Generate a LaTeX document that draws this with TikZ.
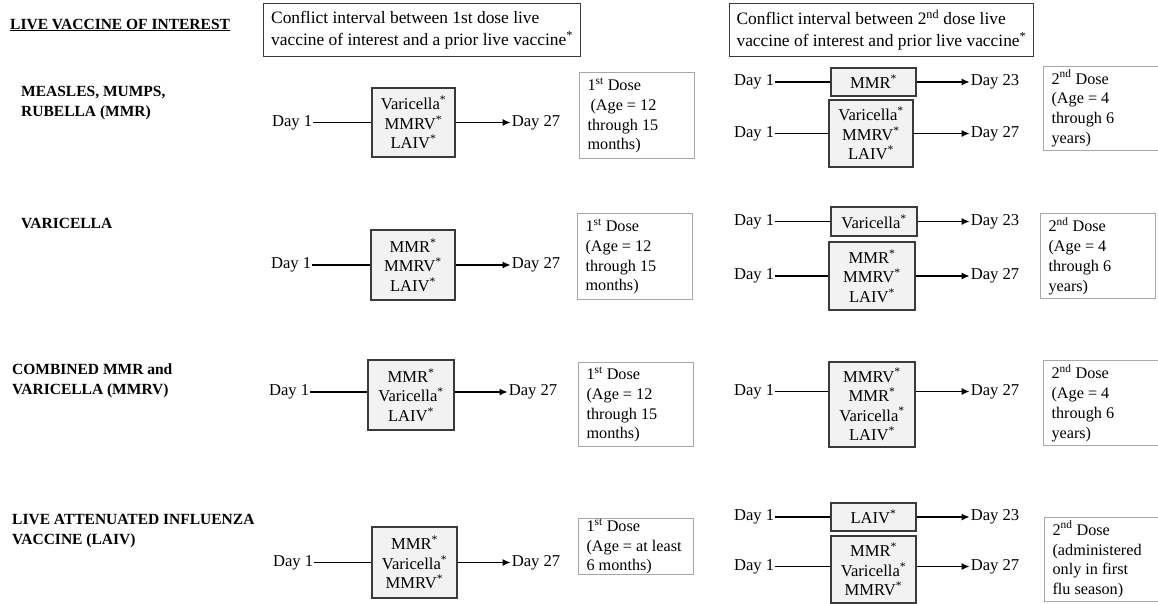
\documentclass[tikz,border=0pt]{standalone}
\usepackage{fontspec}
\setmainfont{Liberation Serif}
\usetikzlibrary{positioning, arrows.meta}
\definecolor{boxFill}{HTML}{F2F2F2}
\definecolor{boxLine}{HTML}{3A3A3A}
\definecolor{doseLine}{HTML}{A8A8A8}
\newcommand{\vstar}{\textsuperscript{*}}
\newcommand{\bodyfont}{\fontsize{16.6}{19.5}\selectfont}
\newcommand{\dosefont}{\fontsize{16.2}{19.8}\selectfont}
\tikzstyle{vaccine} =[draw=boxLine, fill=boxFill, line width=1.2pt, align=center, inner sep=0pt, font=\bodyfont]
\tikzstyle{dose} =[draw=doseLine, line width=1.1pt, align=flush left, text width=99pt, inner xsep=8pt, inner ysep=0pt, anchor=north west, font=\dosefont]
\tikzstyle{daylbl} =[inner sep=1pt, font=\bodyfont]
\tikzstyle{grouplbl} =[align=left, anchor=west, inner sep=0pt, font=\bfseries\fontsize{15.5}{19.5}\selectfont]
\tikzstyle{headbox} =[draw=boxLine, line width=1.1pt, align=flush left, anchor=north west, inner xsep=7pt, font=\fontsize{17.4}{22.5}\selectfont]
\tikzstyle{link} =[line width=1.3pt]
\tikzstyle{linkarrow} =[-{Latex[length=8pt, width=7pt]}, line width=1.3pt]

\begin{document}
\begin{tikzpicture}[x=1pt, y=-1pt]
\useasboundingbox (0,0) rectangle (1158,604);

\node (title) [grouplbl] at (10,25) {\underline{LIVE VACCINE OF INTEREST}};
\node (headOne) [headbox, minimum width=317pt, minimum height=53pt] at (263,3) {Conflict interval between 1st dose live\\vaccine of interest and a prior live vaccine\vstar};
\node (headTwo) [headbox, minimum width=303pt, minimum height=53pt] at (729,3) {Conflict interval between 2\textsuperscript{nd} dose live\\vaccine of interest and prior live vaccine\vstar};

% MMR
\node (mmrLbl) [grouplbl] at (21,103) {MEASLES, MUMPS,\\RUBELLA (MMR)};

\node (vMmrA) [vaccine, minimum width=83pt, minimum height=69pt] at (413.5,122.5) {Varicella\vstar\\MMRV\vstar\\LAIV\vstar};
\node (dMmrA) [daylbl, left=58pt of vMmrA.west] {Day 1};
\node (eMmrA) [daylbl, right=55pt of vMmrA.east] {Day 27};
\draw[link] (dMmrA) -- (dMmrA -| vMmrA.west);
\draw[linkarrow] (eMmrA -| vMmrA.east) -- (eMmrA);

\node (firstMmr) [dose, minimum height=86pt] at (579,72) {1\textsuperscript{st} Dose\\\hspace{3pt}(Age = 12\\through 15\\months)};

\node (vMmrB) [vaccine, minimum width=85pt, minimum height=28pt] at (873.5,82) {MMR\vstar};
\node (dMmrB) [daylbl, left=55pt of vMmrB.west] {Day 1};
\node (eMmrB) [daylbl, right=53pt of vMmrB.east] {Day 23};
\draw[link] (dMmrB) -- (dMmrB -| vMmrB.west);
\draw[linkarrow] (eMmrB -| vMmrB.east) -- (eMmrB);

\node (vMmrC) [vaccine, minimum width=84pt, minimum height=67pt] at (871,133.5) {Varicella\vstar\\MMRV\vstar\\LAIV\vstar};
\node (dMmrC) [daylbl, left=53pt of vMmrC.west] {Day 1};
\node (eMmrC) [daylbl, right=56pt of vMmrC.east] {Day 27};
\draw[link] (dMmrC) -- (dMmrC -| vMmrC.west);
\draw[linkarrow] (eMmrC -| vMmrC.east) -- (eMmrC);

\node (secondMmr) [dose, minimum height=84pt] at (1043,66) {2\textsuperscript{nd} Dose\\(Age = 4\\through 6\\years)};

% Varicella
\node (varLbl) [grouplbl] at (21,223) {VARICELLA};

\node (vVarA) [vaccine, minimum width=84pt, minimum height=70pt] at (413,265) {MMR\vstar\\MMRV\vstar\\LAIV\vstar};
\node (dVarA) [daylbl, left=58pt of vVarA.west] {Day 1};
\node (eVarA) [daylbl, right=55pt of vVarA.east] {Day 27};
\draw[link] (dVarA) -- (dVarA -| vVarA.west);
\draw[linkarrow] (eVarA -| vVarA.east) -- (eVarA);

\node (firstVar) [dose, minimum height=86pt] at (577,213) {1\textsuperscript{st} Dose\\(Age = 12\\through 15\\months)};

\node (vVarB) [vaccine, minimum width=86pt, minimum height=29pt] at (874,221.5) {Varicella\vstar};
\node (dVarB) [daylbl, left=55pt of vVarB.west] {Day 1};
\node (eVarB) [daylbl, right=52pt of vVarB.east] {Day 23};
\draw[link] (dVarB) -- (dVarB -| vVarB.west);
\draw[linkarrow] (eVarB -| vVarB.east) -- (eVarB);

\node (vVarC) [vaccine, minimum width=86pt, minimum height=68pt] at (872,276) {MMR\vstar\\MMRV\vstar\\LAIV\vstar};
\node (dVarC) [daylbl, left=53pt of vVarC.west] {Day 1};
\node (eVarC) [daylbl, right=54pt of vVarC.east] {Day 27};
\draw[link] (dVarC) -- (dVarC -| vVarC.west);
\draw[linkarrow] (eVarC -| vVarC.east) -- (eVarC);

\node (secondVar) [dose, minimum height=85pt] at (1040,213) {2\textsuperscript{nd} Dose\\(Age = 4\\through 6\\years)};

% MMRV
\node (mmrvLbl) [grouplbl] at (12,381) {COMBINED MMR and\\VARICELLA (MMRV)};

\node (vMmrvA) [vaccine, minimum width=86pt, minimum height=70pt] at (411,395) {MMR\vstar\\Varicella\vstar\\LAIV\vstar};
\node (dMmrvA) [daylbl, left=57pt of vMmrvA.west, yshift=3pt] {Day 1};
\node (eMmrvA) [daylbl, right=53pt of vMmrvA.east, yshift=3pt] {Day 27};
\draw[link] (dMmrvA) -- (dMmrvA -| vMmrvA.west);
\draw[linkarrow] (eMmrvA -| vMmrvA.east) -- (eMmrvA);

\node (firstMmrv) [dose, minimum height=84pt] at (578,362) {1\textsuperscript{st} Dose\\(Age = 12\\through 15\\months)};

\node (vMmrvB) [vaccine, minimum width=86pt, minimum height=85pt] at (872,404.5) {MMRV\vstar\\MMR\vstar\\Varicella\vstar\\LAIV\vstar};
\node (dMmrvB) [daylbl, left=53pt of vMmrvB.west, yshift=13pt] {Day 1};
\node (eMmrvB) [daylbl, right=54pt of vMmrvB.east, yshift=13pt] {Day 27};
\draw[link] (dMmrvB) -- (dMmrvB -| vMmrvB.west);
\draw[linkarrow] (eMmrvB -| vMmrvB.east) -- (eMmrvB);

\node (secondMmrv) [dose, minimum height=85pt] at (1043,360) {2\textsuperscript{nd} Dose\\(Age = 4\\through 6\\years)};

% LAIV
\node (laivLbl) [grouplbl] at (12,531) {LIVE ATTENUATED INFLUENZA\\VACCINE (LAIV)};

\node (vLaivA) [vaccine, minimum width=85pt, minimum height=71pt] at (414.5,562.5) {MMR\vstar\\Varicella\vstar\\MMRV\vstar};
\node (dLaivA) [daylbl, left=57pt of vLaivA.west] {Day 1};
\node (eLaivA) [daylbl, right=53pt of vLaivA.east] {Day 27};
\draw[link] (dLaivA) -- (dLaivA -| vLaivA.west);
\draw[linkarrow] (eLaivA -| vLaivA.east) -- (eLaivA);

\node (firstLaiv) [dose, minimum height=56pt] at (578,518) {1\textsuperscript{st} Dose\\(Age = at least\\6 months)};

\node (vLaivB) [vaccine, minimum width=85pt, minimum height=28pt] at (873.5,517) {LAIV\vstar};
\node (dLaivB) [daylbl, left=55pt of vLaivB.west] {Day 1};
\node (eLaivB) [daylbl, right=53pt of vLaivB.east] {Day 23};
\draw[link] (dLaivB) -- (dLaivB -| vLaivB.west);
\draw[linkarrow] (eLaivB -| vLaivB.east) -- (eLaivB);

\node (vLaivC) [vaccine, minimum width=85pt, minimum height=67pt] at (873.5,569.5) {MMR\vstar\\Varicella\vstar\\MMRV\vstar};
\node (dLaivC) [daylbl, left=55pt of vLaivC.west, yshift=3pt] {Day 1};
\node (eLaivC) [daylbl, right=53pt of vLaivC.east, yshift=3pt] {Day 27};
\draw[link] (dLaivC) -- (dLaivC -| vLaivC.west);
\draw[linkarrow] (eLaivC -| vLaivC.east) -- (eLaivC);

\node (secondLaiv) [dose, minimum height=84pt] at (1044,517) {2\textsuperscript{nd} Dose\\(administered\\only in first\\flu season)};

\end{tikzpicture}
\end{document}
